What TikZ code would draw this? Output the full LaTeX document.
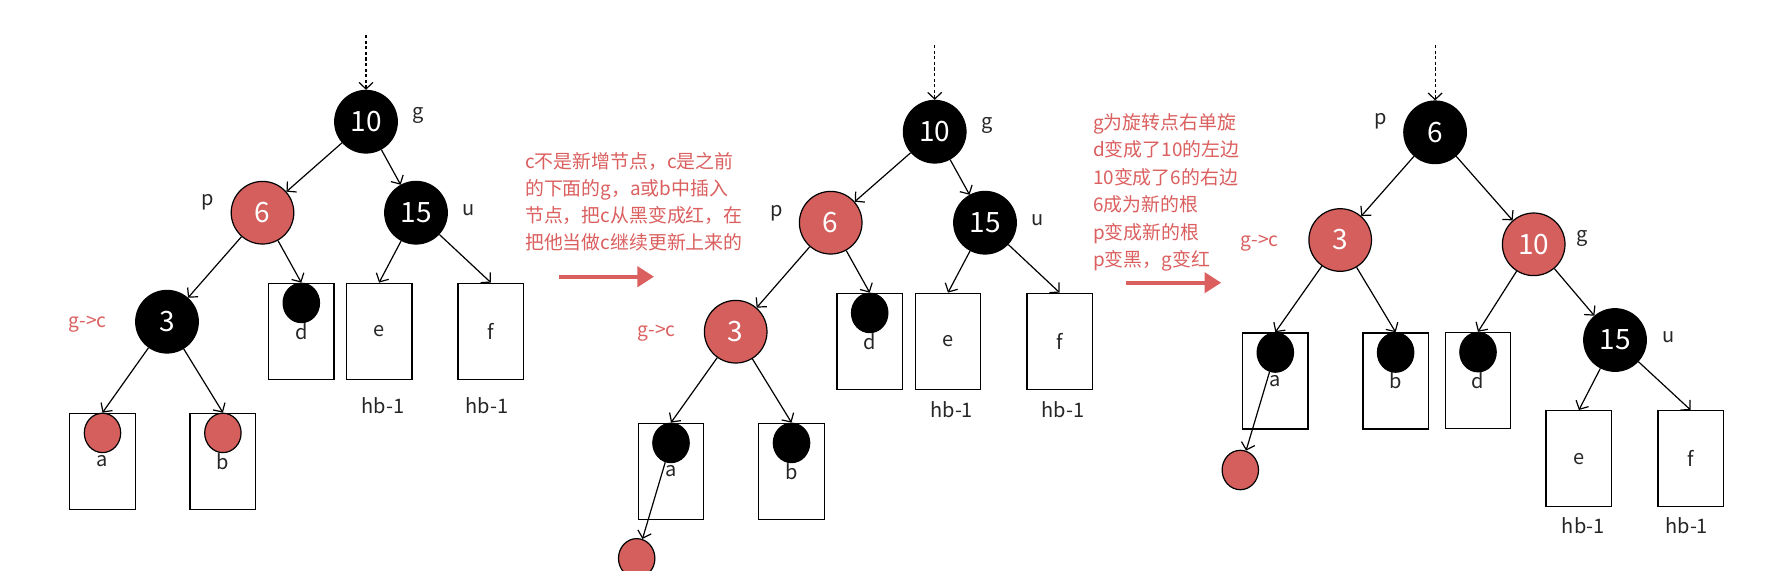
\documentclass[tikz,border=0pt]{standalone}
\usepackage{fontspec}
\newfontfamily\cjk{Noto Sans CJK SC}
\usetikzlibrary{arrows.meta,shapes.geometric}
\definecolor{rbred}{HTML}{D45F5C}
\definecolor{txtred}{HTML}{DB5F5F}
\definecolor{lbl}{HTML}{262626}
\begin{document}
\begin{tikzpicture}[x=0.5pt,y=-0.5pt,
 rbnode/.style={circle,draw=black,line width=0.6pt,minimum size=31.3pt,inner sep=0pt,text=white,font=\cjk\fontsize{14}{15}\selectfont},
 blacknode/.style={rbnode,fill=black},
 rednode/.style={rbnode,fill=rbred},
 leafbox/.style={rectangle,draw=black,line width=0.7pt,minimum width=32.75pt,minimum height=48pt,inner sep=0pt,text=lbl,font=\cjk\fontsize{10}{11}\selectfont},
 leafdot/.style={ellipse,draw=black,line width=0.6pt,minimum width=18.2pt,minimum height=19.7pt,inner sep=0pt,anchor=north},
 bdot/.style={leafdot,fill=black},
 rdot/.style={leafdot,fill=rbred},
 tag/.style={text=lbl,font=\cjk\fontsize{10}{11}\selectfont,inner sep=0pt},
 redtag/.style={text=txtred,font=\cjk\fontsize{9.6}{11}\selectfont,inner sep=0pt},
 note/.style={text=txtred,align=left,anchor=north west,inner sep=0pt},
 edge/.style={-{Straight Barb[length=3.3pt,width=7pt]},line width=0.6pt},
 topedge/.style={edge,dash pattern=on 1.6pt off 1.2pt},
 bigarrow/.style={-{Triangle[length=8.3pt,width=10pt]},line width=2pt,draw=txtred}
]
\fill[white] (0,0) rectangle (1772,570);
\useasboundingbox (0,0) rectangle (1772,570);

% ---------------- Panel 1 ----------------
\coordinate (top1) at (366,35);
\node[blacknode] (n10a) at (366,121.7) {10};
\node[rednode] (n6a) at (262.5,212.7) {6};
\node[blacknode] (n15a) at (416,212.7) {15};
\node[blacknode] (n3a) at (167,321.7) {3};
\node[tag] (g1) at (418,115) {g};
\node[tag] (p1) at (208,202) {p};
\node[tag] (u1) at (469,210) {u};
\node[redtag] (gc1) at (87.5,324.3) {g->c};
\node[leafbox] (a1box) at (102.5,461.3) {a};
\node[leafbox] (b1box) at (222.9,461.3) {b};
\node[leafbox] (d1box) at (301.3,331.3) {d};
\node[leafbox] (e1box) at (379.1,331.3) {e};
\node[leafbox] (f1box) at (490.9,331.3) {f};
\node[rdot] (a1dot) at (a1box.north) {};
\node[rdot] (b1dot) at (b1box.north) {};
\node[bdot] (d1dot) at (d1box.north) {};
\node[tag] (hb1e) at (382.9,406) {hb-1};
\node[tag] (hb1f) at (486.8,406) {hb-1};
\draw[topedge] (top1) -- (n10a);
\draw[edge] (n10a) -- (n6a);
\draw[edge] (n10a) -- (n15a);
\draw[edge] (n6a) -- (n3a);
\draw[edge] (n6a) -- (d1box.north);
\draw[edge] (n15a) -- (e1box.north);
\draw[edge] (n15a) -- (f1box.north);
\draw[edge] (n3a) -- (a1box.north);
\draw[edge] (n3a) -- (b1box.north);

% note 1
\node[note,font=\cjk\fontsize{9.45}{13.45}\selectfont] (note1) at (524.7,152)
 {c不是新增节点，c是之前\\的下面的g，a或b中插入\\节点，把c从黑变成红，在\\把他当做c继续更新上来的};
\coordinate (r1s) at (559,276.7);
\coordinate (r1e) at (654,276.7);
\draw[bigarrow] (r1s) -- (r1e);

% ---------------- Panel 2 ----------------
\coordinate (top2) at (934.7,45);
\node[blacknode] (n10b) at (934.7,131.7) {10};
\node[rednode] (n6b) at (830.7,222.7) {6};
\node[blacknode] (n15b) at (985,222.7) {15};
\node[rednode] (n3b) at (735.7,331.7) {3};
\node[tag] (g2) at (987,125) {g};
\node[tag] (p2) at (776.6,213.3) {p};
\node[tag] (u2) at (1037.5,220) {u};
\node[redtag] (gc2) at (656.7,333.3) {g->c};
\node[leafbox] (a2box) at (671,471.3) {a};
\node[leafbox] (b2box) at (791.5,471.3) {b};
\node[leafbox] (d2box) at (869.7,341.3) {d};
\node[leafbox] (e2box) at (948,341.3) {e};
\node[leafbox] (f2box) at (1059.6,341.3) {f};
\node[bdot] (a2dot) at (a2box.north) {};
\node[bdot] (b2dot) at (b2box.north) {};
\node[bdot] (d2dot) at (d2box.north) {};
\node[rdot,anchor=center] (new2) at (636.7,558.3) {};
\node[tag] (hb2e) at (951.7,410) {hb-1};
\node[tag] (hb2f) at (1063,410) {hb-1};
\draw[topedge] (top2) -- (n10b);
\draw[edge] (n10b) -- (n6b);
\draw[edge] (n10b) -- (n15b);
\draw[edge] (n6b) -- (n3b);
\draw[edge] (n6b) -- (d2box.north);
\draw[edge] (n15b) -- (e2box.north);
\draw[edge] (n15b) -- (f2box.north);
\draw[edge] (n3b) -- (a2box.north);
\draw[edge] (n3b) -- (b2box.north);
\draw[edge] (a2dot) -- (new2);

% note 2
\node[note,font=\cjk\fontsize{9.45}{13.75}\selectfont] (note2) at (1092.7,113)
 {g为旋转点右单旋\\d变成了10的左边\\10变成了6的右边\\6成为新的根\\p变成新的根\\p变黑，g变红};
\coordinate (r2s) at (1125.8,282.7);
\coordinate (r2e) at (1221.2,282.7);
\draw[bigarrow] (r2s) -- (r2e);

% ---------------- Panel 3 ----------------
\coordinate (top3) at (1435.1,45);
\node[blacknode] (n6c) at (1435.1,132.3) {6};
\node[rednode] (n3c) at (1340.2,240) {3};
\node[rednode] (n10c) at (1533.7,244.3) {10};
\node[blacknode] (n15c) at (1615,340) {15};
\node[tag] (p3) at (1381,121.7) {p};
\node[redtag] (gc3) at (1259.8,243.3) {g->c};
\node[tag] (g3) at (1582.2,238.3) {g};
\node[tag] (u3) at (1668.5,337.3) {u};
\node[leafbox] (a3box) at (1275.3,380.9) {a};
\node[leafbox] (b3box) at (1395.6,380.9) {b};
\node[leafbox] (d3box) at (1478,380.5) {d};
\node[leafbox] (e3box) at (1578.9,458.7) {e};
\node[leafbox] (f3box) at (1690.6,458.7) {f};
\node[bdot] (a3dot) at (a3box.north) {};
\node[bdot] (b3dot) at (b3box.north) {};
\node[bdot] (d3dot) at (d3box.north) {};
\node[rdot,anchor=center] (new3) at (1240.3,470) {};
\node[tag] (hb3e) at (1583.2,526) {hb-1};
\node[tag] (hb3f) at (1686.7,526) {hb-1};
\draw[topedge] (top3) -- (n6c);
\draw[edge] (n6c) -- (n3c);
\draw[edge] (n6c) -- (n10c);
\draw[edge] (n3c) -- (a3box.north);
\draw[edge] (n3c) -- (b3box.north);
\draw[edge] (n10c) -- (d3box.north);
\draw[edge] (n10c) -- (n15c);
\draw[edge] (n15c) -- (e3box.north);
\draw[edge] (n15c) -- (f3box.north);
\draw[edge] (a3dot) -- (new3);
\end{tikzpicture}
\end{document}
